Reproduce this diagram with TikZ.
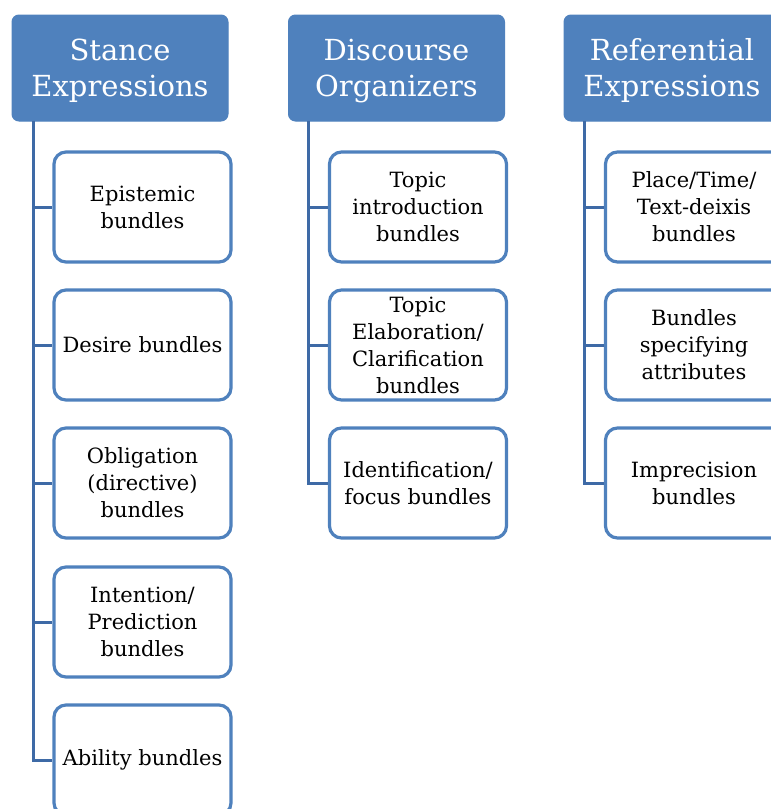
\documentclass[tikz,border=0pt]{standalone}
\usepackage{fontspec}
\setmainfont{DejaVu Serif}
\definecolor{hblue}{HTML}{4F81BD}
\definecolor{lblue}{HTML}{3E6AA6}
\newcommand{\hstrut}{\rule{0pt}{28pt}}
\tikzset{
  header/.style={draw=hblue, fill=hblue, line width=1pt, rounded corners=7pt,
    minimum width=216pt, minimum height=106pt, inner sep=0pt, align=center,
    text=white, font=\fontsize{29}{36}\selectfont},
  child/.style={draw=hblue, fill=white, line width=3.2pt, rounded corners=12pt,
    minimum width=177pt, minimum height=110pt, inner sep=0pt, align=center,
    text=black, font=\fontsize{21}{27}\selectfont},
  link/.style={draw=lblue, line width=3pt}
}
\begin{document}
\begin{tikzpicture}[x=1pt,y=-1pt]
\useasboundingbox (0,0) rectangle (771,809);
\clip (0,0) rectangle (771,809);
% headers
\node[header] (h1) at (120,68) {\hstrut Stance\\Expressions};
\node[header] (h2) at (396.5,68) {\hstrut Discourse\\Organizers};
\node[header] (h3) at (672,68) {\hstrut Referential\\Expressions};
% trunk tops
\coordinate (t1) at (33,121);
\coordinate (t2) at (308,121);
\coordinate (t3) at (584,121);
% column 1
\node[child] (c11) at (142.5,207) {Epistemic\\bundles};
\node[child] (c12) at (142.5,345) {Desire bundles};
\node[child] (c13) at (142.5,483) {Obligation\\(directive)\\bundles};
\node[child] (c14) at (142.5,622) {Intention/\\Prediction\\bundles};
\node[child] (c15) at (142.5,760) {Ability bundles};
% column 2
\node[child] (c21) at (418,207) {Topic\\introduction\\bundles};
\node[child] (c22) at (418,345) {Topic\\Elaboration/\\Clarification\\bundles};
\node[child] (c23) at (418,483) {Identification/\\focus bundles};
% column 3
\node[child] (c31) at (694,207) {Place/Time/\\Text-deixis\\bundles};
\node[child] (c32) at (694,345) {Bundles\\specifying\\attributes};
\node[child] (c33) at (694,483) {Imprecision\\bundles};
% connectors
\foreach \c in {c11,c12,c13,c14,c15} \draw[link] (t1) |- (\c.west);
\foreach \c in {c21,c22,c23} \draw[link] (t2) |- (\c.west);
\foreach \c in {c31,c32,c33} \draw[link] (t3) |- (\c.west);
\end{tikzpicture}
\end{document}
